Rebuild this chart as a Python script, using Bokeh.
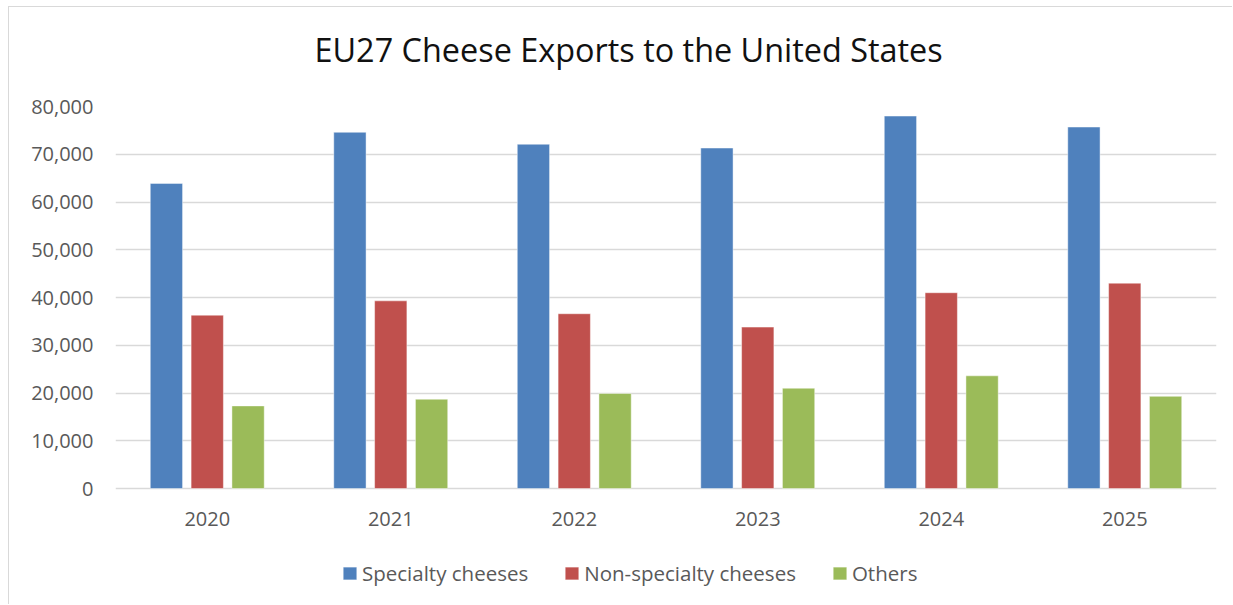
from bokeh.plotting import figure
from bokeh.models import (FactorRange, Range1d, Legend, LegendItem, Title,
                          NumeralTickFormatter, FixedTicker, ColumnDataSource)
from bokeh.transform import dodge
from bokeh.core.properties import value
from bokeh.embed import file_html
from bokeh.resources import INLINE

# ---- data (tonnes) ----
years = ["2020", "2021", "2022", "2023", "2024", "2025"]
specialty = [63900, 74600, 72100, 71300, 78000, 75700]
non_specialty = [36300, 39300, 36600, 33800, 41000, 43000]
others = [17300, 18700, 19900, 21000, 23600, 19300]
series_names = ["Specialty cheeses", "Non-specialty cheeses", "Others"]
y_ticks = [0, 10000, 20000, 30000, 40000, 50000, 60000, 70000, 80000]
title_text = "EU27 Cheese Exports to the United States"

colors = ["#4f81bd", "#c0504d", "#9bbb59"]
FONT = "Open Sans"
GRAY = "#595959"

src = ColumnDataSource(dict(year=years, specialty=specialty,
                            non_specialty=non_specialty, others=others))

# frame runs from the 80,000 line down to the bottom of the chart box, so the
# category labels and the legend live inside it (below the zero line)
Y_MAX = 80000
Y_MIN = -24500
p = figure(x_range=FactorRange(*years, range_padding=0),
           y_range=Range1d(Y_MIN, Y_MAX),
           width=1224, height=598,
           output_backend="svg", toolbar_location=None,
           min_border_left=106, min_border_right=17,
           min_border_top=99, min_border_bottom=0)
p.title = None
p.outline_line_color = None
p.background_fill_color = "white"
p.border_fill_color = "white"
p.styles = {"margin-left": "8px", "margin-top": "6px",
            "border-left": "1px solid #d9d9d9", "border-top": "1px solid #d9d9d9"}

renderers = []
offsets = [-0.2225, 0.0, 0.2225]
for col, off, c in zip(["specialty", "non_specialty", "others"], offsets, colors):
    r = p.vbar(x=dodge("year", off, range=p.x_range), top=col, bottom=0,
               width=0.176, source=src, fill_color=c, line_color="white",
               line_alpha=0.45, line_width=1)
    renderers.append(r)

# category labels under the zero line
p.text(x="year", y=0, text="year", source=src, y_offset=23,
       text_align="center", text_baseline="top", text_font=value(FONT),
       text_font_size="20px", text_color=GRAY)

# axes
p.xaxis.visible = False
p.yaxis.ticker = FixedTicker(ticks=y_ticks)
p.yaxis.formatter = NumeralTickFormatter(format="0,0")
p.yaxis.axis_line_color = None
p.yaxis.major_tick_line_color = None
p.yaxis.minor_tick_line_color = None
p.yaxis.major_tick_out = 0
p.yaxis.major_tick_in = 0
p.yaxis.major_label_standoff = 22
p.yaxis.major_label_text_font = FONT
p.yaxis.major_label_text_font_size = "20px"
p.yaxis.major_label_text_color = GRAY

p.xgrid.grid_line_color = None
p.ygrid.grid_line_color = "#d9d9d9"
p.ygrid.grid_line_width = 1.5
p.ygrid.ticker = FixedTicker(ticks=y_ticks)

# spacer between frame and title, then the title above it
p.add_layout(Title(text=" ", text_font=FONT, text_font_size="10px",
                   standoff=13), "above")
p.add_layout(Title(text=title_text, align="left", offset=199,
                   vertical_align="top", standoff=10,
                   text_font=FONT, text_font_size="32.4px",
                   text_font_style="normal", text_color="#111111"), "above")

# legend inside the (extended) frame, below the category labels
items = [LegendItem(label=n, renderers=[r]) for n, r in zip(series_names, renderers)]
legend = Legend(items=items, orientation="horizontal", location=(226, 18),
                padding=0, margin=0, spacing=35, label_standoff=4,
                glyph_width=17, glyph_height=16,
                label_text_font=FONT, label_text_font_size="20.5px",
                label_text_color=GRAY, border_line_color=None,
                background_fill_alpha=0)
p.add_layout(legend)

open("out.html", "w").write(file_html(p, INLINE))
